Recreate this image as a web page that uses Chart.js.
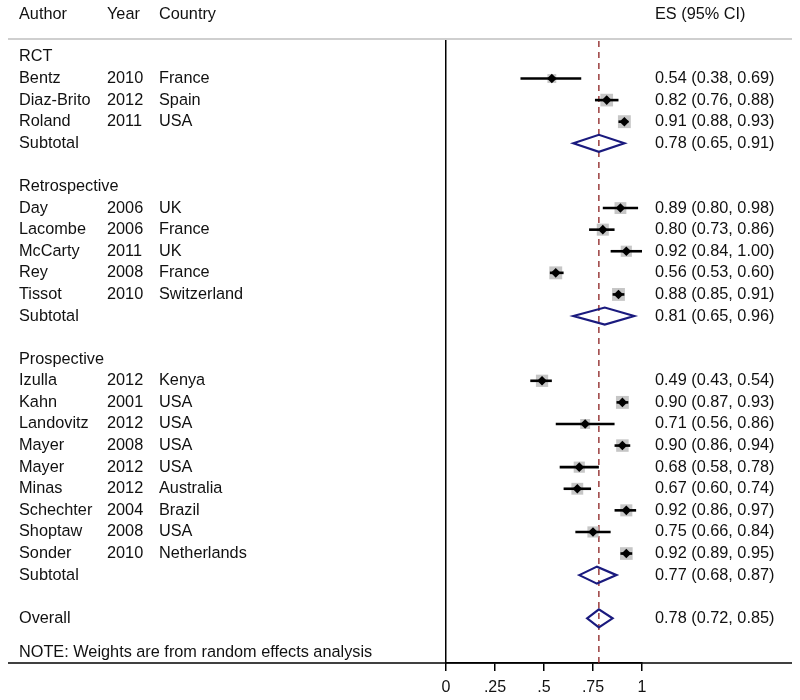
<!DOCTYPE html>
<html>
<head>
<meta charset="utf-8">
<style>
  body { margin: 0; background: #fff; }
  canvas { display: block; }
</style>
<script src="https://cdn.jsdelivr.net/npm/chart.js@4"></script>
</head>
<body>
<canvas id="forest" width="800" height="700"></canvas>
<script>
// study data
const groups = ['RCT', 'Retrospective', 'Prospective'];
const authors = ['Bentz', 'Diaz-Brito', 'Roland', 'Day', 'Lacombe', 'McCarty', 'Rey', 'Tissot',
    'Izulla', 'Kahn', 'Landovitz', 'Mayer', 'Mayer', 'Minas', 'Schechter', 'Shoptaw', 'Sonder'];
const years = [2010, 2012, 2011, 2006, 2006, 2011, 2008, 2010, 2012, 2001, 2012, 2008, 2012, 2012, 2004, 2008, 2010];
const countries = ['France', 'Spain', 'USA', 'UK', 'France', 'UK', 'France', 'Switzerland',
    'Kenya', 'USA', 'USA', 'USA', 'USA', 'Australia', 'Brazil', 'USA', 'Netherlands'];
const studyGroup = [0, 0, 0, 1, 1, 1, 1, 1, 2, 2, 2, 2, 2, 2, 2, 2, 2];
const es = [0.54, 0.82, 0.91, 0.89, 0.80, 0.92, 0.56, 0.88, 0.49, 0.90, 0.71, 0.90, 0.68, 0.67, 0.92, 0.75, 0.92];
const lo = [0.38, 0.76, 0.88, 0.80, 0.73, 0.84, 0.53, 0.85, 0.43, 0.87, 0.56, 0.86, 0.58, 0.60, 0.86, 0.66, 0.89];
const hi = [0.69, 0.88, 0.93, 0.98, 0.86, 1.00, 0.60, 0.91, 0.54, 0.93, 0.86, 0.94, 0.78, 0.74, 0.97, 0.84, 0.95];
const weights = [3.0, 6.2, 6.4, 5.4, 5.6, 4.8, 6.4, 6.4, 5.8, 6.4, 3.8, 6.0, 4.8, 5.4, 5.6, 4.8, 6.2];

const subES = [0.78, 0.81, 0.77];
const subLo = [0.65, 0.65, 0.68];
const subHi = [0.91, 0.96, 0.87];
const overall = { es: 0.78, lo: 0.72, hi: 0.85 };

const xTicks = [0, 0.25, 0.5, 0.75, 1];

// assign each line of the table a row index
let rows = [];
let studyRow = [];
let subRow = [];
let r = 0;
groups.forEach(function (g, gi) {
    rows.push({ row: r++, author: g });
    studyGroup.forEach(function (sg, i) {
        if (sg === gi) {
            studyRow[i] = r;
            rows.push({ row: r++, author: authors[i], year: years[i], country: countries[i],
                ci: es[i].toFixed(2) + ' (' + lo[i].toFixed(2) + ', ' + hi[i].toFixed(2) + ')' });
        }
    });
    subRow[gi] = r;
    rows.push({ row: r++, author: 'Subtotal',
        ci: subES[gi].toFixed(2) + ' (' + subLo[gi].toFixed(2) + ', ' + subHi[gi].toFixed(2) + ')' });
    r++; // blank line
});
const overallRow = r;
rows.push({ row: overallRow, author: 'Overall',
    ci: overall.es.toFixed(2) + ' (' + overall.lo.toFixed(2) + ', ' + overall.hi.toFixed(2) + ')' });

const FONT = '16.3px "Liberation Sans", Arial, sans-serif';

function diamond(ctx, x, y, xl, xh, h) {
    ctx.beginPath();
    ctx.moveTo(xl, y);
    ctx.lineTo(x, y - h);
    ctx.lineTo(xh, y);
    ctx.lineTo(x, y + h);
    ctx.closePath();
    ctx.stroke();
}

const forestPlugin = {
    id: 'forest',
    beforeDatasetsDraw: function (chart) {
        const ctx = chart.ctx, xs = chart.scales.x, area = chart.chartArea;
        ctx.save();
        // top separator
        ctx.strokeStyle = '#cfcfcf';
        ctx.lineWidth = 2;
        ctx.beginPath();
        ctx.moveTo(8, area.top);
        ctx.lineTo(792, area.top);
        ctx.stroke();
        // axis line extended across the whole table
        ctx.strokeStyle = '#000';
        ctx.lineWidth = 1.5;
        ctx.beginPath();
        ctx.moveTo(8, area.bottom);
        ctx.lineTo(792, area.bottom);
        ctx.stroke();
        // dashed line at overall estimate
        const xo = xs.getPixelForValue(overall.es);
        ctx.strokeStyle = '#8b2020';
        ctx.lineWidth = 1.3;
        ctx.setLineDash([6, 5]);
        ctx.beginPath();
        ctx.moveTo(xo, area.top + 2);
        ctx.lineTo(xo, area.bottom);
        ctx.stroke();
        ctx.restore();
    },
    // CI lines go over the weight boxes, under the point estimates
    afterDatasetDraw: function (chart, args) {
        if (args.index !== 1) return;
        const ctx = chart.ctx, xs = chart.scales.x, ys = chart.scales.y;
        ctx.save();
        ctx.strokeStyle = '#000';
        ctx.lineWidth = 2.6;
        es.forEach(function (v, i) {
            const y = ys.getPixelForValue(studyRow[i]);
            ctx.beginPath();
            ctx.moveTo(xs.getPixelForValue(lo[i]), y);
            ctx.lineTo(xs.getPixelForValue(hi[i]), y);
            ctx.stroke();
        });
        ctx.restore();
    },
    afterDatasetsDraw: function (chart) {
        const ctx = chart.ctx, xs = chart.scales.x, ys = chart.scales.y;
        ctx.save();
        ctx.strokeStyle = '#1a1a7e';
        ctx.lineWidth = 2.2;
        ctx.lineJoin = 'miter';
        subES.forEach(function (v, gi) {
            diamond(ctx, xs.getPixelForValue(v), ys.getPixelForValue(subRow[gi]),
                xs.getPixelForValue(subLo[gi]), xs.getPixelForValue(subHi[gi]), 8.5);
        });
        diamond(ctx, xs.getPixelForValue(overall.es), ys.getPixelForValue(overallRow),
            xs.getPixelForValue(overall.lo), xs.getPixelForValue(overall.hi), 9);
        ctx.restore();
    },
    afterDraw: function (chart) {
        const ctx = chart.ctx, ys = chart.scales.y;
        ctx.save();
        ctx.font = FONT;
        ctx.fillStyle = '#111';
        ctx.textBaseline = 'middle';
        ctx.textAlign = 'left';
        const yh = ys.getPixelForValue(-1.95);
        ctx.fillText('Author', 19, yh);
        ctx.fillText('Year', 107, yh);
        ctx.fillText('Country', 159, yh);
        ctx.fillText('ES (95% CI)', 655, yh);
        rows.forEach(function (row) {
            const y = ys.getPixelForValue(row.row);
            ctx.fillText(row.author, 19, y);
            if (row.year) ctx.fillText(String(row.year), 107, y);
            if (row.country) ctx.fillText(row.country, 159, y);
            if (row.ci) ctx.fillText(row.ci, 655, y);
        });
        ctx.fillText('NOTE: Weights are from random effects analysis', 19, ys.getPixelForValue(27.6));
        ctx.restore();
    }
};

// dataset 0 is drawn last (on top), dataset 1 first
new Chart(document.getElementById('forest'), {
    type: 'scatter',
    data: {
        datasets: [{
            label: 'estimate',
            data: es.map((v, i) => ({ x: v, y: studyRow[i] })),
            pointStyle: 'rectRot',
            pointRadius: 4.8,
            pointBackgroundColor: '#000',
            pointBorderWidth: 0
        }, {
            label: 'weight',
            data: es.map((v, i) => ({ x: v, y: studyRow[i] })),
            pointStyle: 'rect',
            pointRadius: weights.map(w => 3.6 * Math.sqrt(w)),
            pointBackgroundColor: '#c6c6c6',
            pointBorderWidth: 0
        }]
    },
    options: {
        responsive: false,
        animation: false,
        layout: { padding: { left: 446, right: 158, top: 39, bottom: 0 } },
        plugins: {
            legend: { display: false },
            tooltip: { enabled: false }
        },
        scales: {
            x: {
                type: 'linear',
                min: 0,
                max: 1,
                afterBuildTicks: function (s) { s.ticks = xTicks.map(v => ({ value: v })); },
                afterFit: function (s) { s.height = 37; },
                ticks: {
                    color: '#111',
                    font: { family: '"Liberation Sans", Arial, sans-serif', size: 16 },
                    padding: 7,
                    maxRotation: 0,
                    callback: v => v === 0 ? '0' : v === 1 ? '1' : String(v).replace('0.', '.')
                },
                grid: { drawOnChartArea: false, drawTicks: true, tickLength: 8, color: '#000', lineWidth: 1.5 },
                border: { display: true, color: '#000', width: 1.5 }
            },
            y: {
                type: 'linear',
                reverse: true,
                min: -0.83,
                max: 28.07,
                afterFit: function (s) { s.width = 0; },
                ticks: { display: false },
                grid: { display: false },
                border: { display: true, color: '#000', width: 1.5 }
            }
        }
    },
    plugins: [forestPlugin]
});
</script>
</body>
</html>
